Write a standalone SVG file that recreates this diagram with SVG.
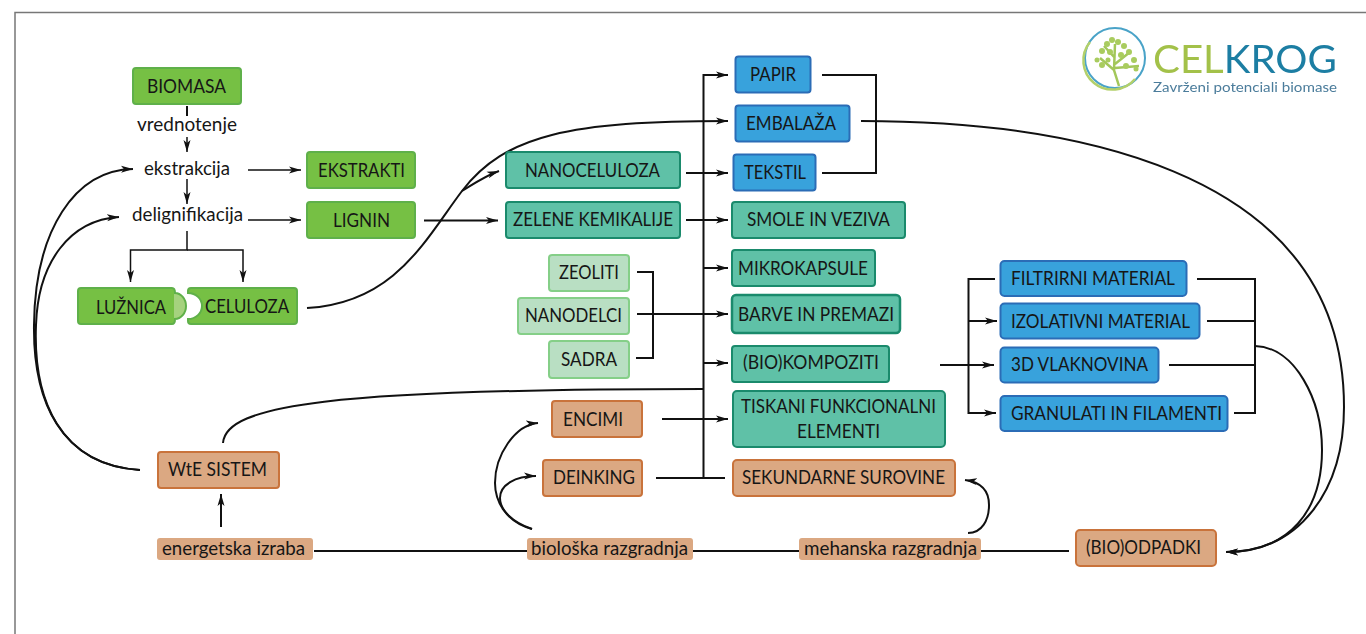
<svg xmlns="http://www.w3.org/2000/svg" width="1366" height="634" viewBox="0 0 1366 634">
<style>
text{font-family:"Lato","Liberation Sans",sans-serif;font-size:19.5px;fill:#161616}
.n{stroke-width:2}
.g{fill:#76c044;stroke:#5fb04a}
.t{fill:#5fc1a7;stroke:#1a8a6c}
.b{fill:#38a2dc;stroke:#2b6cb6}
.o{fill:#dba882;stroke:#c9733b}
.l{fill:#b9dfc3;stroke:#85cf88}
.p{fill:#dba882;stroke:none}
#connectors path{fill:none;stroke:#111;stroke-width:2}
#connectors .a{marker-end:url(#arr)}
#connectors .th{stroke-width:1.5}
</style>
<defs>
<marker id="arr" markerUnits="userSpaceOnUse" viewBox="0 0 12 8" refX="12" refY="4" markerWidth="12" markerHeight="8" orient="auto"><path d="M0 0.5L12 4L0 7.5L3 4z" fill="#111"/></marker>
<filter id="soft" x="-5%" y="-5%" width="110%" height="110%"><feGaussianBlur stdDeviation="0.6"/></filter>
</defs>
<path d="M15 634V12.500H1366" fill="none" stroke="#777" stroke-width="1.500"/>
<g id="connectors">
<path d="M187 106V116"/>
<path class="a th" d="M187 137V152"/>
<path class="a th" d="M187 179V204"/>
<path class="a th" d="M248 170H301"/>
<path class="a th" d="M248 220H301"/>
<path class="a th" d="M187 231V250H130.500V282"/>
<path class="a th" d="M187 250H243V282"/>
<path class="a" d="M424 220.500H498"/>
<path class="a" d="M307 308C395 303 425 240 462 191C505 135 570 121 728 121"/>
<path class="a" d="M462 191C475 183 485 176 499 171"/>
<path class="a" d="M703.500 478V75H728"/>
<path class="a" d="M686 173H728"/>
<path class="a" d="M686 220H728"/>
<path class="a" d="M703.500 268H728"/>
<path class="a" d="M637 314H728"/>
<path class="a" d="M703.500 363H728"/>
<path class="a" d="M662 419H728"/>
<path d="M656 478H725"/>
<path d="M637 272H653V358H636"/>
<path d="M223 443C226 405 330 389 703 389"/>
<path class="a" d="M140 470C60 465 33 400 34 325C35 230 75 170 133 169"/>
<path class="a" d="M140 470C60 465 33 400 36 325C38 262 70 220 119 217"/>
<path class="a" d="M221 527V494"/>
<path d="M314 551H527M693 551H799M981 551H1069"/>
<path class="a" d="M532 529C505 522 495 500 495 483C495 455 515 425 538 423"/>
<path class="a" d="M532 529C512 522 500 510 500 498C500 485 515 476 536 476"/>
<path class="a" d="M968 533C982 533 989 520 989 505C989 490 980 482 965 480"/>
<path d="M822 75H876V173H822"/>
<path class="a" d="M861 121C1050 121 1344 160 1344 407C1344 490 1300 552 1226 552"/>
<path class="a" d="M940 365H994"/>
<path class="a" d="M995 279H968.500V413H996"/>
<path class="a" d="M968.500 321H997"/>
<path d="M1197 279H1255V413H1234"/>
<path d="M1207 321H1255M1169 365H1255"/>
<path class="a" d="M1255 346C1295 347 1322 400 1322 450C1322 510 1290 552 1226 552"/>
</g>
<g id="biomasa"><rect class="n g" x="133" y="68" width="108" height="36" rx="3"/><text x="147" y="93" textLength="79" lengthAdjust="spacingAndGlyphs">BIOMASA</text></g>
<g id="vrednotenje"><text x="137" y="131" textLength="100" lengthAdjust="spacingAndGlyphs">vrednotenje</text></g>
<g id="ekstrakcija"><text x="144" y="175" textLength="86" lengthAdjust="spacingAndGlyphs">ekstrakcija</text></g>
<g id="delignifikacija"><text x="132" y="221" textLength="111" lengthAdjust="spacingAndGlyphs">delignifikacija</text></g>
<g id="ekstrakti"><rect class="n g" x="307" y="152" width="108" height="36" rx="3"/><text x="318" y="177" textLength="87" lengthAdjust="spacingAndGlyphs">EKSTRAKTI</text></g>
<g id="lignin"><rect class="n g" x="307" y="202" width="108" height="36" rx="3"/><text x="333" y="227" textLength="57" lengthAdjust="spacingAndGlyphs">LIGNIN</text></g>
<g id="luznica"><path class="n g" d="M81 288H172Q175 288 175 293C181 293 186 299 186 306C186 313 181 319 175 319Q175 324 172 324H81Q78 324 78 321V291Q78 288 81 288z"/><path d="M174 294C181 294 185 300 185 306C185 312 181 318 174 318z" fill="#a5d27e"/><text x="96" y="314" textLength="70" lengthAdjust="spacingAndGlyphs">LUŽNICA</text></g>
<g id="celuloza"><path class="n g" d="M191 288H294Q297 288 297 291V321Q297 324 294 324H191Q188 324 188 321V319C196 319 202 313 202 306C202 299 196 293 188 293V291Q188 288 191 288z"/><text x="205" y="313" textLength="84" lengthAdjust="spacingAndGlyphs">CELULOZA</text></g>
<g id="nanoceluloza"><rect class="n t" x="506" y="152" width="174" height="36" rx="3"/><text x="525" y="177" textLength="135" lengthAdjust="spacingAndGlyphs">NANOCELULOZA</text></g>
<g id="zelene"><rect class="n t" x="506" y="202" width="174" height="36" rx="3"/><text x="513" y="226" textLength="160" lengthAdjust="spacingAndGlyphs">ZELENE KEMIKALIJE</text></g>
<g id="zeoliti"><rect class="n l" x="549" y="255" width="80" height="36" rx="3"/><text x="559" y="279" textLength="60" lengthAdjust="spacingAndGlyphs">ZEOLITI</text></g>
<g id="nanodelci"><rect class="n l" x="518" y="298" width="111" height="36" rx="3"/><text x="525" y="322" textLength="97" lengthAdjust="spacingAndGlyphs">NANODELCI</text></g>
<g id="sadra"><rect class="n l" x="549" y="341" width="80" height="37" rx="3"/><text x="561" y="366" textLength="56" lengthAdjust="spacingAndGlyphs">SADRA</text></g>
<g id="papir"><rect class="n b" x="735.500" y="56.500" width="75" height="36" rx="3"/><text x="750" y="81" textLength="46" lengthAdjust="spacingAndGlyphs">PAPIR</text></g>
<g id="embalaza"><rect class="n b" x="735.500" y="105.500" width="114" height="36" rx="3"/><text x="746" y="130" textLength="90" lengthAdjust="spacingAndGlyphs">EMBALAŽA</text></g>
<g id="tekstil"><rect class="n b" x="733.500" y="154.500" width="82" height="36" rx="3"/><text x="744" y="179" textLength="62" lengthAdjust="spacingAndGlyphs">TEKSTIL</text></g>
<g id="smole"><rect class="n t" x="732" y="202" width="173" height="36" rx="3"/><text x="747" y="226" textLength="143" lengthAdjust="spacingAndGlyphs">SMOLE IN VEZIVA</text></g>
<g id="mikrokapsule"><rect class="n t" x="732" y="250" width="143" height="36" rx="3"/><text x="738" y="275" textLength="130" lengthAdjust="spacingAndGlyphs">MIKROKAPSULE</text></g>
<g id="barve"><rect class="t" stroke-width="2.500" x="732" y="295" width="168" height="38" rx="4"/><text x="738" y="321" textLength="156" lengthAdjust="spacingAndGlyphs">BARVE IN PREMAZI</text></g>
<g id="kompoziti"><rect class="n t" x="732" y="346" width="157" height="36" rx="3"/><text x="743" y="369" textLength="136" lengthAdjust="spacingAndGlyphs">(BIO)KOMPOZITI</text></g>
<g id="tiskani"><rect class="n t" x="733" y="391" width="212" height="56" rx="4"/><text x="741" y="413" textLength="195" lengthAdjust="spacingAndGlyphs">TISKANI FUNKCIONALNI</text><text x="797" y="438" textLength="83" lengthAdjust="spacingAndGlyphs">ELEMENTI</text></g>
<g id="sekundarne"><rect class="n o" x="733" y="460" width="222" height="36" rx="4"/><text x="742" y="484" textLength="203" lengthAdjust="spacingAndGlyphs">SEKUNDARNE SUROVINE</text></g>
<g id="encimi"><rect class="n o" x="552" y="401" width="90" height="36" rx="3"/><text x="563" y="426" textLength="60" lengthAdjust="spacingAndGlyphs">ENCIMI</text></g>
<g id="deinking"><rect class="n o" x="543" y="460" width="99" height="36" rx="3"/><text x="553" y="484" textLength="82" lengthAdjust="spacingAndGlyphs">DEINKING</text></g>
<g id="bioloska"><rect class="p" x="527" y="538" width="166" height="22" rx="3"/><text x="531" y="555" textLength="157" lengthAdjust="spacingAndGlyphs">biološka razgradnja</text></g>
<g id="mehanska"><rect class="p" x="799" y="538" width="182" height="22" rx="3"/><text x="804" y="555" textLength="173" lengthAdjust="spacingAndGlyphs">mehanska razgradnja</text></g>
<g id="energetska"><rect class="p" x="157" y="538" width="156" height="22" rx="3"/><text x="162" y="555" textLength="143" lengthAdjust="spacingAndGlyphs">energetska izraba</text></g>
<g id="wte"><rect class="n o" x="158" y="452" width="121" height="36" rx="3"/><text x="168" y="476" textLength="99" lengthAdjust="spacingAndGlyphs">WtE SISTEM</text></g>
<g id="odpadki"><rect class="n o" x="1076" y="530" width="140" height="36" rx="4"/><text x="1086" y="554" textLength="115" lengthAdjust="spacingAndGlyphs">(BIO)ODPADKI</text></g>
<g id="filtrirni"><rect class="n b" x="1000.500" y="261" width="186" height="35" rx="4"/><text x="1011" y="285" textLength="164" lengthAdjust="spacingAndGlyphs">FILTRIRNI MATERIAL</text></g>
<g id="izolativni"><rect class="n b" x="1000.500" y="303.500" width="199" height="35" rx="4"/><text x="1011" y="328" textLength="179" lengthAdjust="spacingAndGlyphs">IZOLATIVNI MATERIAL</text></g>
<g id="vlaknovina"><rect class="n b" x="1000.500" y="347.500" width="158" height="35" rx="4"/><text x="1011" y="371" textLength="137" lengthAdjust="spacingAndGlyphs">3D VLAKNOVINA</text></g>
<g id="granulati"><rect class="n b" x="1000.500" y="396" width="227" height="35" rx="4"/><text x="1011" y="420" textLength="211" lengthAdjust="spacingAndGlyphs">GRANULATI IN FILAMENTI</text></g>
<g id="logo">
<g filter="url(#soft)">
<circle cx="1115" cy="58" r="30" fill="#fff" stroke="#4aa3c8" stroke-width="2"/>
<path d="M1090 42A29 29 0 0 0 1135 79" fill="none" stroke="#b3d06a" stroke-width="2.500"/>
<path d="M1119 86L1114 70L1115 44M1114 70L1100 58M1115 64L1130 52M1115 58L1104 46M1115 68L1139 66" fill="none" stroke="#a3c75a" stroke-width="2.500"/>
<g fill="#a9cc5e"><circle cx="1112" cy="40" r="3"/><circle cx="1118" cy="42" r="3"/><circle cx="1107" cy="44" r="3"/><circle cx="1124" cy="46" r="3"/><circle cx="1102" cy="51" r="3"/><circle cx="1129" cy="52" r="3"/><circle cx="1097" cy="60" r="2.500"/><circle cx="1110" cy="52" r="3"/><circle cx="1121" cy="55" r="3"/><circle cx="1134" cy="60" r="3"/><circle cx="1102" cy="65" r="3"/><circle cx="1126" cy="66" r="3"/><circle cx="1136" cy="69" r="2.500"/><circle cx="1108" cy="60" r="2.500"/></g>
<text x="1153" y="73" textLength="184" lengthAdjust="spacingAndGlyphs" style="font-size:38px"><tspan style="fill:#a3c14a">CEL</tspan><tspan style="fill:#1f7ea3">KROG</tspan></text>
<text x="1153" y="92" textLength="184" lengthAdjust="spacingAndGlyphs" style="font-size:14px;fill:#4b7c9b">Zavrženi potenciali biomase</text>
</g>
</g>
</svg>
